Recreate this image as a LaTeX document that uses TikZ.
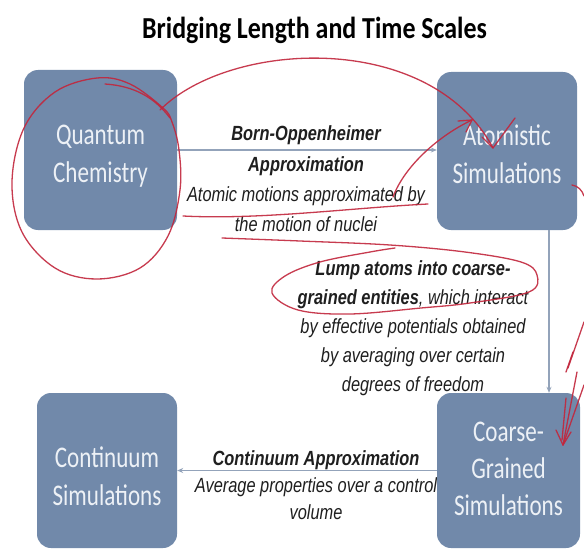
\documentclass[tikz,border=0pt]{standalone}
\usepackage{fontspec}
\usetikzlibrary{arrows.meta}
\newfontfamily\boxfont[FakeStretch=0.77]{Carlito}
\newfontfamily\titlefont[FakeStretch=0.85]{Carlito}
\newfontfamily\arialfont[FakeStretch=0.8]{Liberation Sans}
\definecolor{boxblue}{HTML}{7189AA}
\definecolor{boxtext}{HTML}{EDF1F6}
\definecolor{conncol}{HTML}{93A3BA}
\definecolor{pen}{HTML}{C2263C}
\begin{document}
\begin{tikzpicture}[x=1pt,y=-1pt,
  box/.style={draw=none, fill=boxblue, rounded corners=14pt, inner sep=0pt},
  boxtxt/.style={text=boxtext, font=\boxfont\fontsize{30}{38}\selectfont, align=center, inner sep=0pt},
  conn/.style={draw=conncol, line width=1.2pt, -{Stealth[length=6pt,width=5pt]}},
  lab/.style={font=\arialfont\itshape\fontsize{20.5}{30.3}\selectfont, align=center, inner sep=0pt, text=black!88},
  redpen/.style={draw=pen, line width=1.3pt, line cap=round, line join=round, opacity=0.9}]
\useasboundingbox[fill=white] (0,0) rectangle (584,551);

% title
\node[anchor=base, inner sep=0pt, font=\titlefont\bfseries\fontsize{30.5}{36}\selectfont] (title) at (314.5,39) {Bridging Length and Time Scales};

% connector labels
\node[lab] (bo) at (306,179) {\textbf{Born-Oppenheimer}\\ \textbf{Approximation}\\ Atomic motions approximated by\\ the motion of nuclei};
\node[lab, font=\arialfont\itshape\fontsize{20.5}{29}\selectfont] (lump) at (413,328) {\textbf{Lump atoms into coarse-}\\ \textbf{grained entities}, which interact\\ by effective potentials obtained\\ by averaging over certain\\ degrees of freedom};
\node[lab, font=\arialfont\itshape\fontsize{20.5}{27}\selectfont] (ca) at (316,485.5) {\textbf{Continuum Approximation}\\ Average properties over a control\\ volume};

% boxes
\node[box, minimum width=153pt, minimum height=160pt] (qc) at (100.5,150) {};
\node[box, minimum width=140pt, minimum height=158pt] (atom) at (507,151) {};
\node[box, minimum width=140pt, minimum height=155pt] (cont) at (107,470.5) {};
\node[box, minimum width=143pt, minimum height=155pt] (cg) at (508.5,470.5) {};

\node[boxtxt] (qct) at (100.5,156) {Quantum\\Chemistry};
\node[boxtxt] (atomt) at (507,154) {Atomistic\\Simulations};
\node[boxtxt] (contt) at (107,476) {Continuum\\Simulations};
\node[boxtxt, font=\boxfont\fontsize{30}{37}\selectfont] (cgt) at (508.5,469) {Coarse-\\Grained\\Simulations};

% connectors
\coordinate (vx) at (549,0);
\draw[conn] (qc.east) -- (qc.east -| atom.west);
\draw[conn] (atom.south -| vx) -- (cg.north -| vx);
\draw[conn] (cg.west) -- (cg.west -| cont.east);

% red hand-drawn annotations
\draw[redpen] plot[smooth cycle, tension=0.6] coordinates {(163,108) (130,84) (97,78) (55,92) (24,128) (12,182) (22,232) (55,268) (97,279) (140,268) (168,236) (180,190) (179,150) (172,122)};
\draw[redpen] (105,84) .. controls (135,86) and (155,98) .. (170,118);
\draw[redpen] (160,110) .. controls (230,40) and (430,30) .. (493,148) -- (515,118);
\draw[redpen] (482,137) -- (493,148);
\draw[redpen] (183,216) .. controls (260,220) and (350,208) .. (428,204);
\draw[redpen] (393,197) .. controls (405,165) and (440,135) .. (472,120);
\draw[redpen] (458,121) -- (472,120) -- (466,132);
\draw[redpen] plot[smooth, tension=0.6] coordinates {(222,238) (300,241) (390,245) (465,252) (521,262) (537,275) (529,292) (470,303) (421,308) (350,314) (298,310) (272,293) (285,276) (320,262) (370,252) (395,248)};
\draw[redpen] (572,185) .. controls (578,186) and (582,190) .. (584,196);
\draw[redpen] (584,322) -- (568,368);
\draw[redpen] (573,352) -- (566,372);
\draw[redpen] (577,372) -- (563,445);
\draw[redpen] (584,385) -- (563,445);
\draw[redpen] (566,398) -- (562,440);
\draw[redpen] (556,430) -- (563,445) -- (571,432);
\end{tikzpicture}
\end{document}
